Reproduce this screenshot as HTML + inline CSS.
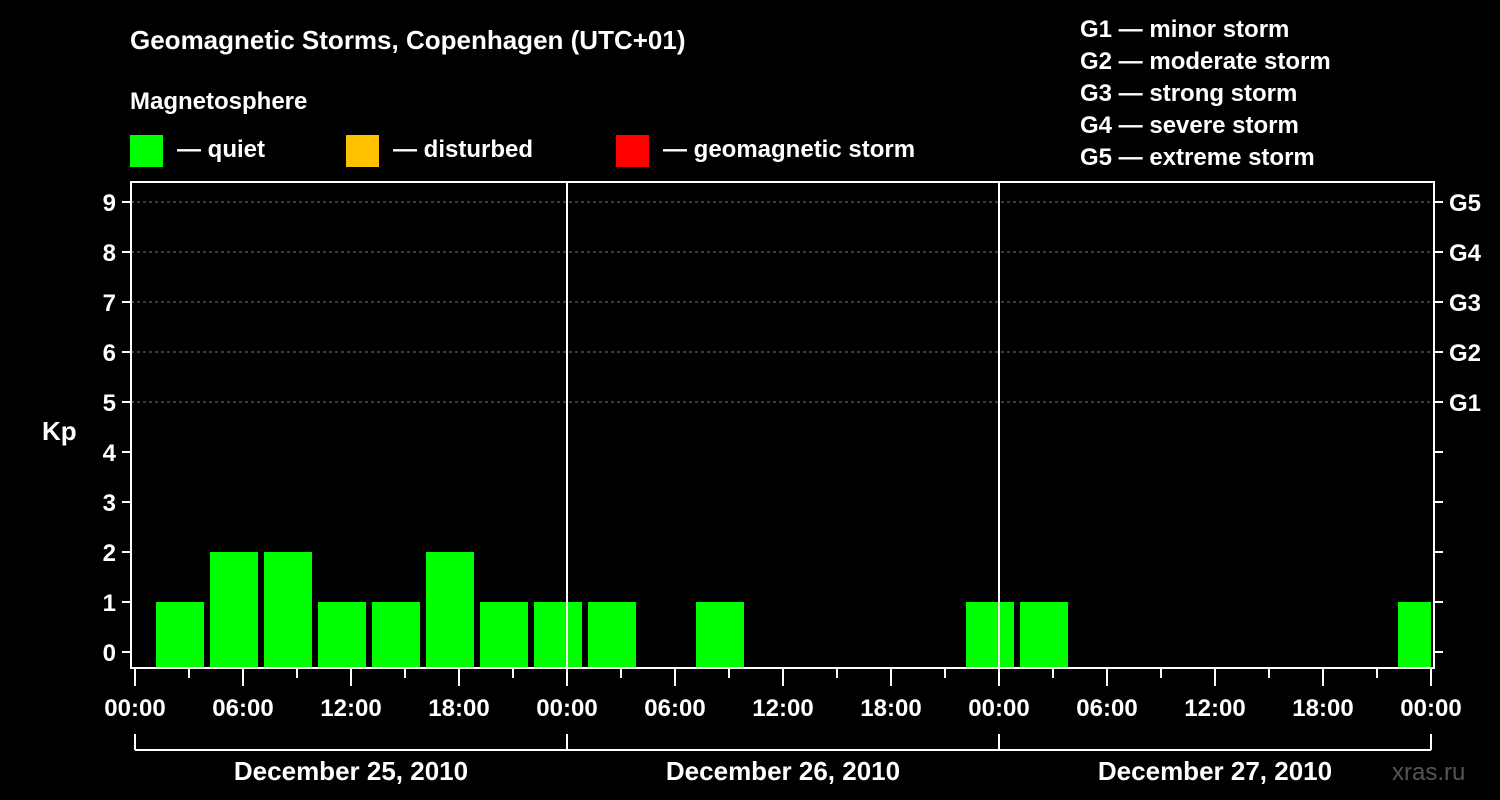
<!DOCTYPE html>
<html><head><meta charset="utf-8"><style>
body{margin:0;background:#000;}
svg{display:block;font-family:"Liberation Sans",Arial,sans-serif;font-weight:bold;}
</style></head><body>
<svg id="c" width="1500" height="800">
<rect width="1500" height="800" fill="#000"/>
<text x="130" y="49" fill="#fff" font-size="26">Geomagnetic Storms, Copenhagen (UTC+01)</text>
<text x="130" y="109" fill="#fff" font-size="24">Magnetosphere</text>
<rect x="130" y="135" width="33" height="32" fill="#00ff00"/>
<text x="177" y="157" fill="#fff" font-size="24">— quiet</text>
<rect x="346" y="135" width="33" height="32" fill="#ffc000"/>
<text x="393" y="157" fill="#fff" font-size="24">— disturbed</text>
<rect x="616" y="135" width="33" height="32" fill="#ff0000"/>
<text x="663" y="157" fill="#fff" font-size="24">— geomagnetic storm</text>
<g fill="#fff" font-size="24">
<text x="1080" y="37">G1 — minor storm</text>
<text x="1080" y="69">G2 — moderate storm</text>
<text x="1080" y="101">G3 — strong storm</text>
<text x="1080" y="133">G4 — severe storm</text>
<text x="1080" y="165">G5 — extreme storm</text>
</g>
<text x="42" y="440" fill="#fff" font-size="26">Kp</text>
<text x="1392" y="780" fill="#555" font-size="24" font-weight="normal">xras.ru</text>
<g id="g"></g>
</svg>
<script>
const kpValues=[1,2,2,1,1,2,1,1, 1,0,1,0,0,0,0,1, 1,0,0,0,0,0,0,1];
const yTicks=[0,1,2,3,4,5,6,7,8,9];
const gLabels=["G1","G2","G3","G4","G5"];
const xLabels=["00:00","06:00","12:00","18:00","00:00","06:00","12:00","18:00","00:00","06:00","12:00","18:00","00:00"];
const dayLabels=["December 25, 2010","December 26, 2010","December 27, 2010"];
const binOffsetHours=1;

const NS="http://www.w3.org/2000/svg";
const g=document.getElementById('g');
const X0=135, HPX=18, L=131, R=1434, T=182, B=668;
const x=h=>X0+h*HPX;
const y=v=>652-v*50;
function mk(t,a,txt){const e=document.createElementNS(NS,t);for(const k in a)e.setAttribute(k,a[k]);if(txt!==undefined)e.textContent=txt;g.appendChild(e);return e;}
// grid
[5,6,7,8,9].forEach(v=>{const e=mk('line',{x1:L,x2:R,y1:y(v),y2:y(v),stroke:'#777','stroke-dasharray':'3,3','stroke-width':1});

});
// bars
kpValues.forEach((v,i)=>{if(v<=0)return;
const h0=binOffsetHours+i*3;let x1=x(h0)+3,x2=Math.min(x(h0+3)-3,R-3);
const e=mk('rect',{x:x1,y:y(v),width:x2-x1,height:B-y(v),fill:v>=5?'#ff0000':(v>=4?'#ffc000':'#00ff00')});

});
// day dividers
[24,48].forEach(h=>{const e=mk('line',{x1:x(h),x2:x(h),y1:T,y2:B,stroke:'#fff','stroke-width':2});

});
// frame
const f=mk('rect',{x:L,y:T,width:R-L,height:B-T,fill:'none',stroke:'#fff','stroke-width':2});


// y ticks
yTicks.forEach(v=>{mk('line',{x1:122,x2:L,y1:y(v),y2:y(v),stroke:'#fff','stroke-width':2});
mk('line',{x1:R,x2:R+9,y1:y(v),y2:y(v),stroke:'#fff','stroke-width':2});
const t=mk('text',{x:116,y:y(v)+9,fill:'#fff','font-size':24,'text-anchor':'end'},String(v));

});
gLabels.forEach((s,i)=>{const t=mk('text',{x:1449,y:y(5+i)+9,fill:'#fff','font-size':24},s);

});
// x ticks
for(let h=0;h<=72;h+=3){mk('line',{x1:x(h),x2:x(h),y1:B,y2:h%6==0?686:678,stroke:'#fff','stroke-width':2});}
xLabels.forEach((s,i)=>{const t=mk('text',{x:x(i*6),y:716,fill:'#fff','font-size':24,'text-anchor':'middle'},s);

});
// day brackets
mk('line',{x1:x(0),x2:x(72),y1:750,y2:750,stroke:'#fff','stroke-width':2});
[0,24,48,72].forEach(h=>mk('line',{x1:x(h),x2:x(h),y1:734,y2:750,stroke:'#fff','stroke-width':2}));
dayLabels.forEach((s,i)=>{const t=mk('text',{x:x(i*24+12),y:780,fill:'#fff','font-size':26,'text-anchor':'middle'},s);

});
</script>
</body></html>
